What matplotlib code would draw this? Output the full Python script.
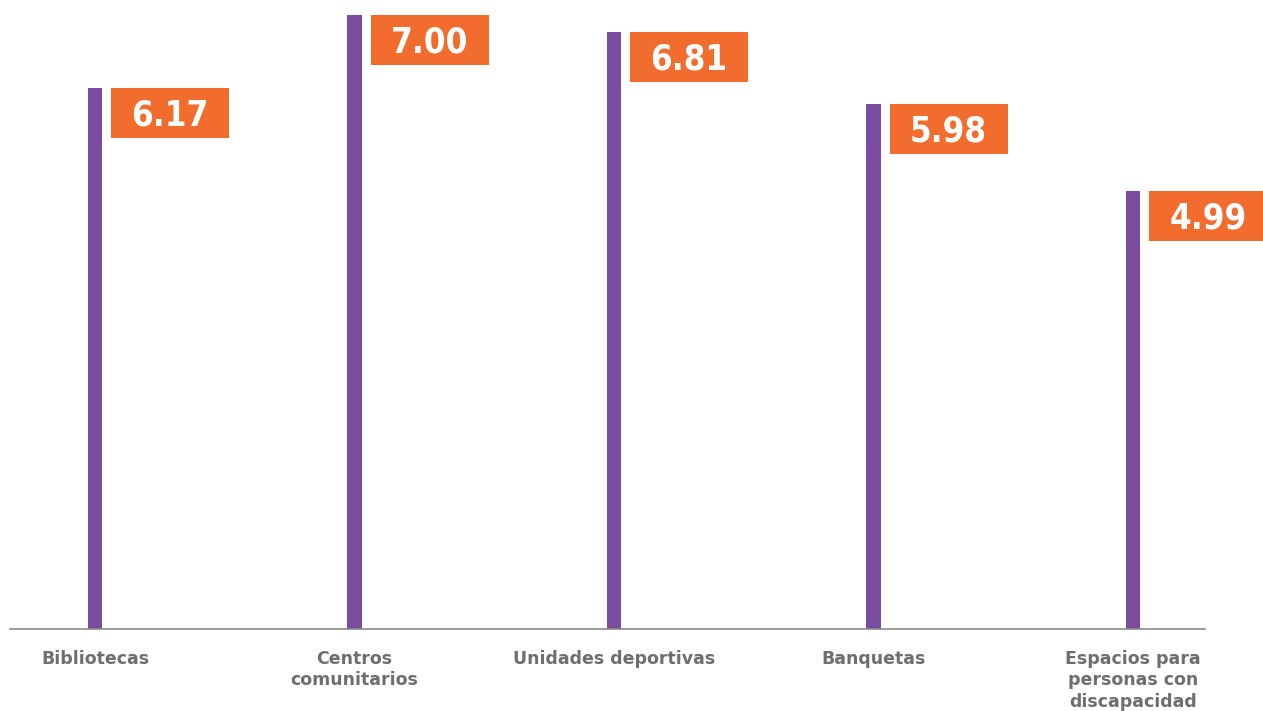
import matplotlib
matplotlib.use("Agg")
import matplotlib.pyplot as plt
from matplotlib import font_manager
import numpy as np

# datos
categorias = ["Bibliotecas", "Centros\ncomunitarios", "Unidades deportivas",
              "Banquetas", "Espacios para\npersonas con\ndiscapacidad"]
valores = [6.17, 7.00, 6.81, 5.98, 4.99]

morado = "#7a4c9f"
naranja = "#f26d2d"
gris = "#6e6e70"

# buscar una fuente estrecha para los números, si hay
fuente_num = dict(family="DejaVu Sans", fontweight="bold")
tam_num = 22
for f in font_manager.fontManager.ttflist:
    if ("Condensed" in f.name or "Narrow" in f.name or
            f.stretch in ("condensed", "semi-condensed", "extra-condensed")):
        fuente_num = dict(family=f.name, fontweight="bold", fontstretch=f.stretch)
        tam_num = 25
        break

fig = plt.figure(figsize=(12.63, 7.11), dpi=100)
ax = fig.add_axes([10 / 1263, 82 / 711, 1195 / 1263, 614 / 711])

x = np.arange(len(valores))
ax.bar(x, valores, width=0.057, color=morado, zorder=2)

# cajas naranjas con el valor
caja_x = 16 / 259.5
caja_w = 118 / 259.5
caja_h = 50 / 87.7
cajas = ax.bar(x + caja_x, caja_h, bottom=np.array(valores) - caja_h, width=caja_w,
               align="edge", color=naranja, zorder=2)
for c in cajas:
    c.set_clip_on(False)
for xi, v in zip(x, valores):
    ax.annotate(f"{v:.2f}", (xi + caja_x + caja_w / 2, v - caja_h / 2),
                xytext=(0, -0.36 * tam_num), textcoords="offset points",
                color="white", fontsize=tam_num, ha="center", va="baseline",
                zorder=3, annotation_clip=False, **fuente_num)

ax.set_xlim(-85 / 259.5, 4 + 72 / 259.5)
ax.set_ylim(0, 7.0)
ax.set_xticks(x)
ax.set_xticklabels(categorias, fontsize=12.5, fontweight="bold", color=gris,
                   linespacing=1.25, va="top")
ax.tick_params(axis="x", length=0, pad=15)
ax.set_yticks([])
for lado in ["top", "right", "left"]:
    ax.spines[lado].set_visible(False)
ax.spines["bottom"].set_color("#8a8a8a")
ax.spines["bottom"].set_linewidth(1.2)
ax.patch.set_alpha(0)

fig.savefig("out.png", dpi=100)
